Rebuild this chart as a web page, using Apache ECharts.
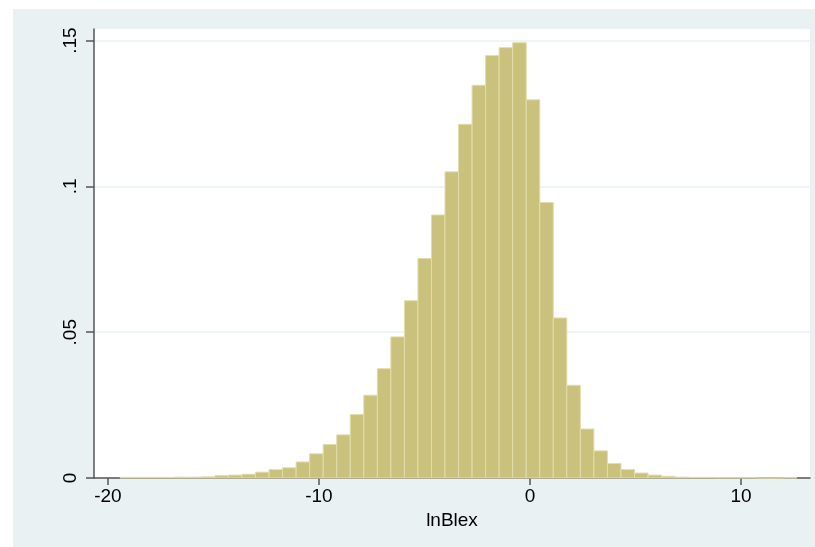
<!DOCTYPE html>
<html>
<head>
<meta charset="utf-8">
<script src="https://cdn.jsdelivr.net/npm/echarts@6/dist/echarts.min.js"></script>
<style>
  html, body { margin: 0; padding: 0; background: #fff; }
  #main { width: 815px; height: 547px; }
</style>
</head>
<body>
<div id="main"></div>
<script>
// histogram of lnBlex (density), 50 bins
var binStart = -19.42;
var binWidth = 0.6414;
var density = [
  0.0002, 0.0002, 0.0002, 0.0002, 0.0003, 0.0003, 0.0004, 0.0008, 0.0010, 0.0013,
  0.0020, 0.0029, 0.0035, 0.0055, 0.0083, 0.0115, 0.0148, 0.0218, 0.0284, 0.0375,
  0.0484, 0.0608, 0.0753, 0.0902, 0.1050, 0.1213, 0.1347, 0.1449, 0.1476, 0.1493,
  0.1297, 0.0945, 0.0549, 0.0318, 0.0168, 0.0093, 0.0050, 0.0029, 0.0017, 0.0010,
  0.0006, 0.0003, 0.0002, 0.0002, 0.0001, 0.0001, 0.0001, 0, 0, 0.0001
];
var xTicks = [-20, -10, 0, 10];
var yTicks = [0, 0.05, 0.1, 0.15];
var xTitle = 'lnBlex';

var bars = [];
for (var i = 0; i < density.length; i++) {
  bars.push([binStart + i * binWidth, binStart + (i + 1) * binWidth, density[i]]);
}

var myChart = echarts.init(document.getElementById('main'));

var option = {
  backgroundColor: '#eaf1f3',
  animation: false,
  textStyle: { fontFamily: 'Liberation Sans' },
  graphic: [
    { type: 'rect', shape: { x: 0, y: 0, width: 13, height: 547 }, style: { fill: '#fff' } },
    { type: 'rect', shape: { x: 0, y: 0, width: 815, height: 9 }, style: { fill: '#fff' } }
  ],
  grid: {
    left: 94, right: 5, top: 29, bottom: 69,
    show: true, backgroundColor: '#fff', borderWidth: 0
  },
  xAxis: {
    type: 'value',
    min: -20.66, max: 13.27,
    name: xTitle,
    nameLocation: 'middle',
    nameGap: 30,
    nameTextStyle: { fontSize: 19, color: '#000', fontFamily: 'Liberation Sans' },
    axisLine: { onZero: false, lineStyle: { color: '#555', width: 1.5 } },
    axisTick: { show: true, length: 7, lineStyle: { color: '#555', width: 1.5 }, customValues: xTicks },
    axisLabel: { fontSize: 19, color: '#000', margin: 9, customValues: xTicks },
    splitLine: { show: false }
  },
  yAxis: {
    type: 'value',
    min: 0, max: 0.154,
    axisLine: { show: true, onZero: false, lineStyle: { color: '#555', width: 1.5 } },
    axisTick: { show: true, length: 8, lineStyle: { color: '#555', width: 1.5 }, customValues: yTicks },
    axisLabel: {
      fontSize: 19, color: '#000', rotate: 90, margin: 14, customValues: yTicks,
      formatter: function (v) {
        var s = String(Math.round(v * 100) / 100);
        return s.replace(/^0\./, '.');
      }
    },
    splitLine: { show: true, lineStyle: { color: '#eaf1f3', width: 1.5 } }
  },
  series: [{
    type: 'custom',
    data: bars,
    encode: { x: [0, 1], y: 2 },
    renderItem: function (params, api) {
      var p0 = api.coord([api.value(0), api.value(2)]);
      var p1 = api.coord([api.value(1), 0]);
      return {
        type: 'rect',
        shape: { x: p0[0], y: p0[1], width: p1[0] - p0[0], height: p1[1] - p0[1] },
        style: { fill: '#c9c17c', stroke: '#e2ddac', lineWidth: 1 }
      };
    }
  }]
};

myChart.setOption(option);
window.addEventListener('resize', function () {
  myChart.resize();
});
</script>
</body>
</html>
